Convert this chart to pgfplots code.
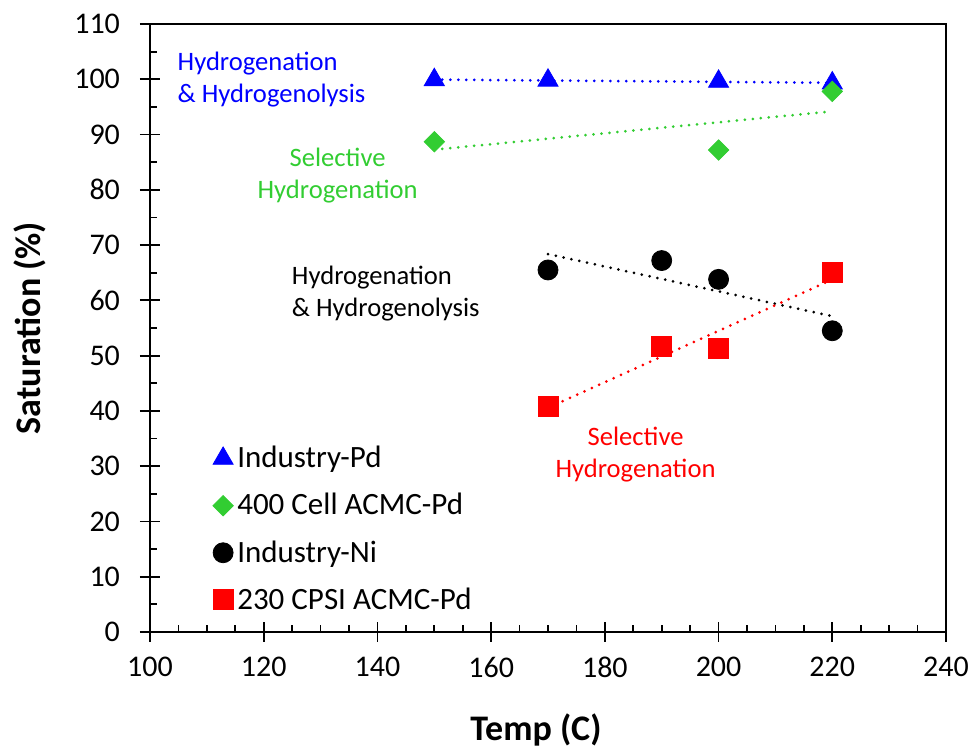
\documentclass[border=0pt]{standalone}
\usepackage{pgfplots}
\pgfplotsset{compat=1.18}
\usepackage{fontspec}
\setmainfont{Carlito}
\definecolor{xgreen}{RGB}{50,205,50}
\definecolor{xblue}{RGB}{0,0,255}
\definecolor{xred}{RGB}{255,0,0}
\begin{document}
\begin{tikzpicture}
\path[use as bounding box] (-75pt,-57.5pt) rectangle (411.5pt,316pt);
\begin{axis}[
  at={(0,0)}, anchor=south west,
  scale only axis, width=398pt, height=304pt,
  xmin=100, xmax=240, ymin=0, ymax=110,
  xtick={100,120,...,240}, ytick={0,10,...,110},
  minor x tick num=3, minor y tick num=1,
  xtick pos=bottom, ytick pos=left,
  tick align=center,
  major tick length=10pt, minor tick length=3.5pt,
  minor x tick style={yshift=1.75pt}, minor y tick style={xshift=1.75pt},
  tick style={black, line width=0.9pt},
  axis line style={line width=1pt},
  ticklabel style={font=\fontsize{15}{18}\selectfont},
  yticklabel style={xshift=-6.5pt},
  xticklabel style={yshift=-4pt},
  /pgf/number format/assume math mode=true,
  xlabel={Temp (C)}, ylabel={Saturation (\%)},
  every axis x label/.style={at={(axis description cs:0,0)}, xshift=193pt, yshift=-49pt, anchor=center,
    font=\bfseries\fontsize{18}{22}\selectfont},
  every axis y label/.style={at={(axis description cs:0,0.5)}, xshift=-60pt, rotate=90, anchor=center,
    font=\bfseries\fontsize{18}{22}\selectfont},
  legend style={at={(axis cs:111.0,34.4)}, anchor=north west, draw=none, fill=none,
    font=\fontsize{15.5}{18}\selectfont, row sep=7.3pt, inner sep=0pt, column sep=0pt,
    nodes={inner sep=2pt}},
  legend cell align=left,
  legend image code/.code={\draw[mark repeat=1] plot coordinates {(5pt,0pt)};},
]
\addplot[only marks, mark=triangle*, mark size=5.8pt, mark options={draw=xblue, fill=xblue}]
  coordinates {(150,99.9) (170,99.8) (200,99.6) (220,99.3)};
\addlegendentry{Industry-Pd}
\addplot[only marks, mark=square*, mark size=3.6pt, mark options={draw=xgreen, fill=xgreen, rotate=45}]
  coordinates {(150,88.7) (200,87.2) (220,97.8)};
\addlegendentry{400 Cell ACMC-Pd}
\addplot[only marks, mark=*, mark size=5pt, mark options={draw=black, fill=black}]
  coordinates {(170,65.5) (190,67.2) (200,63.8) (220,54.5)};
\addlegendentry{Industry-Ni}
\addplot[only marks, mark=square*, mark size=5pt, mark options={draw=xred, fill=xred}]
  coordinates {(170,40.8) (190,51.6) (200,51.3) (220,65.0)};
\addlegendentry{230 CPSI ACMC-Pd}
% linear trendlines
\addplot[xblue, line width=1.5pt, dash pattern=on 0pt off 4pt, line cap=round, forget plot]
  coordinates {(150,99.94) (220,99.36)};
\addplot[xgreen, line width=1.5pt, dash pattern=on 0pt off 4pt, line cap=round, forget plot]
  coordinates {(150,87.26) (220,94.2)};
\addplot[black, line width=1.5pt, dash pattern=on 0pt off 4pt, line cap=round, forget plot]
  coordinates {(170,68.37) (220,57.13)};
\addplot[xred, line width=1.5pt, dash pattern=on 0pt off 4pt, line cap=round, forget plot]
  coordinates {(170,40.57) (220,63.78)};
% annotations
\node[text=xblue, align=left, anchor=west, font=\fontsize{13.3}{16}\selectfont, inner sep=0pt]
  at (axis cs:104.8,99.9) {Hydrogenation\\\& Hydrogenolysis};
\node[text=xgreen, align=center, anchor=center, font=\fontsize{13.3}{16}\selectfont, inner sep=0pt]
  at (axis cs:133,82.5) {Selective\\Hydrogenation};
\node[text=black, align=left, anchor=west, font=\fontsize{13.3}{16}\selectfont, inner sep=0pt]
  at (axis cs:124.9,61.3) {Hydrogenation\\\& Hydrogenolysis};
\node[text=xred, align=center, anchor=center, font=\fontsize{13.3}{16}\selectfont, inner sep=0pt]
  at (axis cs:185.4,32.1) {Selective\\Hydrogenation};
\end{axis}
\end{tikzpicture}
\end{document}
